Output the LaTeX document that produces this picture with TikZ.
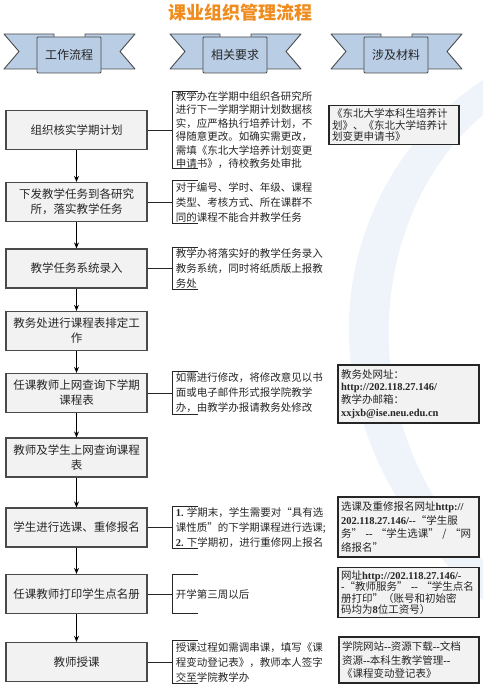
\documentclass[tikz,border=0pt]{standalone}
\usepackage{fontspec}
\setmainfont{Noto Sans CJK SC}
\newfontfamily\enserif{Liberation Serif}[Ligatures=TeXOff]
\usetikzlibrary{arrows.meta,positioning}
\definecolor{TitleOrange}{HTML}{F08C1E}
\definecolor{RibbonBlue}{HTML}{B9CDE5}
\definecolor{BoxGray}{HTML}{F2F2F2}
\definecolor{Ink}{HTML}{262626}
\definecolor{Frame}{HTML}{4A4A4A}
\definecolor{Swoosh}{HTML}{EEF4FA}
\newcommand\entx[1]{{\enserif\bfseries #1}}

\tikzset{
  ribbon/.style={draw=Frame,line width=0.9pt,fill=RibbonBlue,line join=round},
  banner/.style={rectangle,draw=Frame,line width=0.9pt,fill=RibbonBlue,minimum width=64pt,minimum height=36pt,rounded corners=1pt,text=Ink,font=\fontsize{12}{14}\selectfont},
  flowbox/.style={rectangle,draw=Frame,line width=1.2pt,fill=BoxGray,minimum width=141pt,minimum height=39pt,align=center,text=Ink,inner xsep=2pt,font=\fontsize{11.5}{15}\selectfont},
  note/.style={align=left,text=Ink,inner xsep=3pt,inner ysep=0pt,minimum height=42pt,font=\fontsize{10.5}{15}\selectfont},
  bracketline/.style={draw=Ink,line width=1pt},
  matbox/.style={rectangle,draw=Ink,line width=1.5pt,fill=BoxGray,align=left,text=Ink,inner sep=3pt,text width=135pt,font=\fontsize{10.5}{13}\selectfont},
  flowarrow/.style={draw=black,line width=1pt,-{Stealth[length=6pt,width=5pt]}}
}

\begin{document}
\begin{tikzpicture}[x=1pt,y=-1pt]
  \useasboundingbox (0,0) rectangle (483,690);
  % faint background swoosh
  \fill[Swoosh] (483,80) .. controls (330,180) and (280,420) .. (483,600)
    -- (483,560) .. controls (345,420) and (370,210) .. (483,115) -- cycle;

  \node[font=\bfseries\fontsize{18}{18}\selectfont,text=TitleOrange] (title) at (240,13) {课业组织管理流程};

  % column banners
  \foreach \bx/\btext/\bname in {4/工作流程/h1,170/相关要求/h2,331/涉及材料/h3}{
    \draw[ribbon] (\bx,34) -- (\bx+50,34) -- (\bx+50,69) -- (\bx,69) -- (\bx+15,51.5) -- cycle;
    \draw[ribbon] (\bx+131,34) -- (\bx+81,34) -- (\bx+81,69) -- (\bx+131,69) -- (\bx+116,51.5) -- cycle;
    \node[banner] (\bname) at (\bx+65,55) {\btext};
  }

  % work flow
  \node[flowbox] (b1) at (76.5,130) {组织核实学期计划};
  \node[flowbox] (b2) at (76.5,202) {下发教学任务到各研究\\所，落实教学任务};
  \node[flowbox] (b3) at (76.5,268.5) {教学任务系统录入};
  \node[flowbox] (b4) at (76.5,331) {教务处进行课程表排定工\\作};
  \node[flowbox] (b5) at (76.5,393) {任课教师上网查询下学期\\课程表};
  \node[flowbox] (b6) at (76.5,457.5) {教师及学生上网查询课程\\表};
  \node[flowbox] (b7) at (76.5,527.5) {学生进行选课、重修报名};
  \node[flowbox] (b8) at (76.5,594) {任课教师打印学生点名册};
  \node[flowbox] (b9) at (76.5,662) {教师授课};

  \foreach \a/\b in {b1/b2,b2/b3,b3/b4,b4/b5,b5/b6,b6/b7,b7/b8,b8/b9}{
    \draw[flowarrow] (\a) -- (\b);
  }

  % requirements
  \node[note,right=25pt of b1,minimum height=77pt,font=\fontsize{10.5}{13.5}\selectfont] (n1)
    {教学办在学期中组织各研究所\\进行下一学期学期计划数据核\\实，应严格执行培养计划，不\\得随意更改。如确实需更改，\\需填《东北大学培养计划变更\\申请书》，待校教务处审批};
  \node[note,right=25pt of b2] (n2) {对于编号、学时、年级、课程\\类型、考核方式、所在课群不\\同的课程不能合并教学任务};
  \node[note,right=25pt of b3] (n3) {教学办将落实好的教学任务录入\\教务系统，同时将纸质版上报教\\务处};
  \node[note,right=25pt of b5] (n5) {如需进行修改，将修改意见以书\\面或电子邮件形式报学院教学\\办，由教学办报请教务处修改};
  \node[note,right=25pt of b7] (n7) {\entx{1.} 学期末，学生需要对“具有选\\课性质”的下学期课程进行选课;\\\entx{2.} 下学期初，进行重修网上报名};
  \node[note,right=25pt of b8,minimum height=38pt] (n8) {开学第三周以后};
  \node[note,right=25pt of b9] (n9) {授课过程如需调串课，填写《课\\程变动登记表》，教师本人签字\\交至学院教学办};

  \foreach \b/\n in {b1/n1,b2/n2,b3/n3,b5/n5,b7/n7,b8/n8,b9/n9}{
    \draw[bracketline] (\b) -- (\n.west);
    \draw[bracketline] ([xshift=25pt]\n.north west) -- (\n.north west) -- (\n.south west) -- ([xshift=25pt]\n.south west);
  }

  % materials
  \node[matbox,text width=124pt,minimum height=36pt,font=\fontsize{10.5}{11.5}\selectfont] (m1) at (394,125)
    {《东北大学本科生培养计\\划》、《东北大学培养计\\划变更申请书》};
  \node[matbox,minimum height=58pt,font=\fontsize{10.5}{12.7}\selectfont] (m5) at (408.5,394)
    {教务处网址：\\\entx{http://202.118.27.146/}\\教学办邮箱：\\\entx{xxjxb@ise.neu.edu.cn}};
  \node[matbox,minimum height=60pt,font=\fontsize{10.5}{13.5}\selectfont] (m7) at (408.5,527)
    {选课及重修报名网址\entx{http://}\\\entx{202.118.27.146/--}“学生服\\务” \entx{--} “学生选课” / “网\\络报名”};
  \node[matbox,minimum height=49pt,font=\fontsize{10.5}{11.5}\selectfont] (m8) at (408.5,592.5)
    {网址\entx{http://202.118.27.146/-}\\\entx{-}“教师服务” \entx{--} “学生点名\\册打印”（账号和初始密\\码均为\entx{8}位工资号）};
  \node[matbox,text width=134pt,minimum height=46pt,font=\fontsize{10.5}{13.5}\selectfont] (m9) at (409,660)
    {学院网站\entx{--}资源下载\entx{--}文档\\资源\entx{--}本科生教学管理\entx{--}\\《课程变动登记表》};
\end{tikzpicture}
\end{document}
